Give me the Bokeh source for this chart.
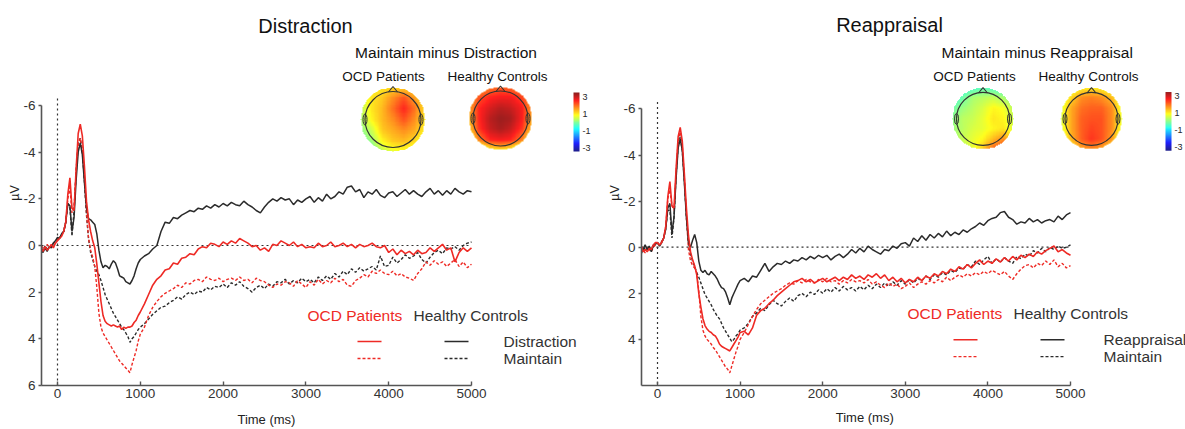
import numpy as np
from bokeh.plotting import figure
from bokeh.models import Range1d, FixedTicker, LinearColorMapper
from bokeh.layouts import row
from bokeh.embed import file_html
from bokeh.resources import INLINE
from bokeh.core.properties import value

# ---------------- DATA ----------------
time_ms = list(range(-200, 1001, 25)) + list(range(1050, 5001, 50))

# Distraction panel (µV, negative up)
dist_ocd_distraction = [
    0.1, 0.25, 0.05, 0.2, 0.1, -0.05, 0.1, -0.1, -0.2, -0.3,
    -0.4, -0.6, -1.0, -2.2, -2.9, -1.6, -1.5, -3.3, -4.8, -5.2,
    -4.7, -3.4, -1.9, -1.1, -0.6, -0.2, 0.1, 0.8, 1.6, 2.4,
    3.0, 3.25, 3.35, 3.4, 3.45, 3.4, 3.45, 3.5, 3.45, 3.6,
    3.5, 3.55, 3.5, 3.5, 3.45, 3.3, 3.2, 3.0, 2.85,
    2.5, 2.1, 1.7, 1.45, 1.3, 1.05, 1.0, 0.75, 0.8, 0.55,
    0.5, 0.35, 0.4, 0.15, 0.05, 0.1, -0.1, -0.05, 0.05, -0.15,
    -0.05, -0.2, -0.1, -0.3, -0.2, -0.1, 0.05, 0.0, 0.2, 0.1,
    0.25, -0.05, 0.0, -0.2, -0.1, 0.0, -0.15, 0.05, -0.05, 0.1,
    0.05, 0.1, -0.1, 0.05, 0.0, -0.15, 0.05, 0.0, -0.1, 0.05,
    -0.05, 0.1, -0.05, 0.05, 0.0, -0.1, 0.05, 0.1, 0.0, 0.3,
    0.15, 0.4, 0.2, 0.35, 0.25, 0.4, 0.2, 0.35, 0.3, 0.1,
    0.25, 0.1, -0.05, 0.2, 0.1, 0.7, 0.3, 0.1, 0.25, 0.1]
dist_hc_distraction = [
    0.2, 0.3, 0.1, 0.25, 0.05, 0.1, -0.1, -0.2, -0.35, -0.3,
    -0.5, -0.6, -1.0, -1.8, -1.7, -0.6, -1.2, -2.8, -4.0, -4.4,
    -3.9, -2.7, -1.6, -1.15, -1.1, -1.0, -0.9, -0.5, 0.2, 0.7,
    0.95, 0.85, 0.9, 1.0, 0.8, 0.65, 0.75, 1.0, 1.3, 1.35,
    1.4, 1.55, 1.6, 1.65, 1.5, 1.3, 1.0, 0.75, 0.6,
    0.45, 0.35, 0.15, 0.0, -0.6, -1.0, -0.95, -1.2, -1.15, -1.3,
    -1.4, -1.5, -1.45, -1.6, -1.55, -1.7, -1.6, -1.75, -1.65, -1.8,
    -1.7, -1.85, -1.75, -1.7, -1.9, -1.75, -1.65, -1.5, -1.4, -1.65,
    -1.85, -2.0, -1.9, -2.05, -1.95, -2.0, -1.75, -1.95, -1.85, -2.0,
    -2.1, -1.85, -2.05, -1.9, -2.2, -2.0, -2.1, -2.3, -2.2, -2.5,
    -2.55, -2.3, -2.4, -2.05, -2.3, -2.2, -2.4, -2.15, -2.05, -2.25,
    -2.3, -2.1, -2.25, -2.4, -2.2, -2.35, -2.2, -2.1, -2.3, -2.45,
    -2.2, -2.35, -2.15, -2.35, -2.2, -2.45, -2.3, -2.2, -2.35, -2.3]
dist_hc_maintain = [
    0.1, 0.2, 0.0, 0.15, 0.1, 0.0, -0.1, -0.2, -0.3, -0.3,
    -0.5, -0.6, -1.0, -1.8, -1.6, -0.4, -1.5, -3.2, -4.4, -4.6,
    -4.0, -2.8, -1.3, -0.3, 0.3, 0.6, 0.9, 1.1, 1.25, 1.5,
    1.8, 2.1, 2.3, 2.5, 2.7, 2.9, 3.05, 3.2, 3.35, 3.5,
    3.6, 3.75, 3.9, 4.15, 4.0, 3.9, 3.75, 3.6, 3.5,
    3.35, 3.15, 2.95, 2.8, 2.65, 2.6, 2.45, 2.35, 2.2, 2.3,
    2.1, 2.0, 2.1, 1.95, 2.0, 1.8, 1.9, 1.75, 1.8, 1.65,
    1.8, 1.6, 1.7, 1.55, 1.75, 1.85, 2.0, 1.8, 1.7, 1.85,
    1.65, 1.75, 1.55, 1.6, 1.45, 1.65, 1.5, 1.6, 1.4, 1.55,
    1.45, 1.6, 1.35, 1.5, 1.3, 1.45, 1.2, 1.35, 1.1, 1.25,
    1.0, 1.15, 0.95, 1.1, 1.0, 0.9, 1.05, 0.45, 0.9, 0.85,
    0.5, 0.75, 0.6, 0.4, 0.55, 0.45, 0.3, 0.6, 0.75, 0.5,
    0.3, 0.2, 0.35, 0.1, 0.15, 0.05, 0.2, 0.0, -0.1, -0.15]
dist_ocd_maintain = [
    0.0, 0.1, 0.15, -0.05, 0.1, 0.0, -0.1, -0.15, -0.3, -0.35,
    -0.45, -0.6, -1.0, -2.0, -2.5, -1.4, -1.6, -3.1, -4.3, -4.6,
    -4.1, -2.9, -1.4, -0.3, 0.2, 0.5, 0.9, 1.8, 2.9, 3.5,
    3.75, 3.9, 4.05, 4.2, 4.35, 4.5, 4.65, 4.8, 4.95, 5.05,
    5.15, 5.25, 5.35, 5.45, 5.1, 4.8, 4.5, 4.1, 3.8,
    3.5, 3.0, 2.65, 2.4, 2.2, 2.05, 1.95, 1.85, 1.7, 1.8,
    1.6, 1.65, 1.5, 1.45, 1.55, 1.35, 1.45, 1.5, 1.4, 1.55,
    1.45, 1.4, 1.5, 1.35, 1.5, 1.45, 1.6, 1.4, 1.5, 1.55,
    1.7, 1.8, 1.65, 1.7, 1.55, 1.6, 1.75, 1.5, 1.65, 1.8,
    1.55, 1.7, 1.45, 1.65, 1.5, 1.6, 1.4, 1.55, 1.45, 1.7,
    1.75, 1.5, 1.4, 1.25, 1.35, 1.1, 1.2, 1.05, 1.2, 1.25,
    1.1, 1.3, 1.2, 1.35, 1.4, 1.5, 1.2, 1.0, 0.7, 0.85,
    0.65, 0.8, 0.7, 0.9, 0.75, 0.6, 0.9, 0.7, 0.95, 0.8]

# Reappraisal panel
reap_ocd_reappraisal = [
    -0.1, 0.2, 0.1, 0.2, 0.05, 0.1, -0.1, -0.2, -0.2, -0.1,
    -0.2, -0.4, -0.9, -2.2, -2.85, -1.8, -1.7, -3.4, -4.8, -5.2,
    -4.6, -3.2, -1.7, -0.5, 0.2, 0.55, 0.8, 1.2, 2.0, 2.6,
    3.1, 3.4, 3.55, 3.65, 3.7, 3.8, 3.85, 4.0, 4.2, 4.3,
    4.35, 4.4, 4.45, 4.5, 4.35, 4.2, 4.05, 3.9, 3.7,
    3.65, 3.8, 3.5, 2.95, 2.75, 2.65, 2.45, 2.3, 2.1, 1.95,
    1.8, 1.65, 1.5, 1.45, 1.35, 1.5, 1.4, 1.55, 1.45, 1.35,
    1.5, 1.4, 1.3, 1.45, 1.3, 1.4, 1.2, 1.35, 1.25, 1.4,
    1.2, 1.3, 1.15, 1.35, 1.2, 1.45, 1.3, 1.5, 1.35, 1.55,
    1.4, 1.5, 1.3, 1.45, 1.25, 1.35, 1.15, 1.25, 1.05, 1.15,
    0.95, 1.05, 0.85, 0.95, 0.75, 0.9, 0.7, 0.55, 0.75, 0.6,
    0.7, 0.5, 0.65, 0.45, 0.6, 0.4, 0.55, 0.35, 0.45, 0.3,
    0.4, 0.2, 0.3, 0.15, 0.05, -0.05, 0.2, 0.1, 0.25, 0.35]
reap_hc_reappraisal = [
    0.3, 0.1, -0.1, 0.1, -0.05, 0.2, -0.1, -0.15, -0.2, -0.05,
    -0.2, -0.4, -0.8, -1.7, -1.9, -0.6, -1.3, -3.0, -4.3, -4.7,
    -4.2, -2.8, -1.3, -0.2, 0.0, -0.3, -0.55, -0.2, 0.6, 1.0,
    1.1, 1.0, 1.15, 1.2, 1.05, 1.15, 1.25, 1.4, 1.6, 1.75,
    1.8, 1.95, 2.2, 2.5, 2.2, 2.0, 1.8, 1.6, 1.45,
    1.35, 1.5, 1.25, 1.3, 1.0, 0.7, 1.05, 0.85, 0.7, 0.75,
    0.6, 0.7, 0.55, 0.6, 0.45, 0.55, 0.4, 0.5, 0.35, 0.45,
    0.35, 0.55, 0.4, 0.3, 0.45, 0.3, 0.1, 0.25, 0.05, 0.2,
    -0.05, 0.1, 0.2, 0.3, 0.1, 0.15, -0.05, 0.05, -0.15, -0.2,
    -0.05, -0.4, -0.25, -0.5, -0.3, -0.55, -0.4, -0.6, -0.45, -0.7,
    -0.5, -0.65, -0.55, -0.75, -0.65, -0.8, -0.9, -1.05, -0.95, -1.15,
    -1.25, -1.3, -1.5, -1.55, -1.3, -1.2, -1.0, -1.1, -1.05, -1.25,
    -1.1, -1.2, -1.05, -1.15, -1.2, -1.1, -1.35, -1.2, -1.4, -1.5]
reap_hc_maintain = [
    0.1, 0.2, 0.0, 0.1, 0.0, 0.1, -0.05, -0.1, -0.2, -0.1,
    -0.2, -0.4, -0.8, -1.6, -1.6, -0.4, -1.3, -3.1, -4.4, -4.8,
    -4.2, -2.9, -1.3, -0.2, 0.3, 0.6, 0.85, 1.1, 1.3, 1.55,
    1.8, 2.05, 2.2, 2.35, 2.5, 2.7, 2.85, 3.0, 3.1, 3.3,
    3.5, 3.65, 3.8, 3.95, 4.1, 4.0, 3.85, 3.75, 3.6,
    3.5, 3.3, 3.0, 2.85, 2.65, 2.75, 2.5, 2.3, 2.45, 2.55,
    2.35, 2.2, 2.35, 2.1, 2.0, 2.15, 1.95, 2.05, 1.85, 2.0,
    1.8, 1.95, 1.75, 1.9, 1.7, 1.85, 1.75, 1.9, 1.7, 1.85,
    1.65, 1.8, 1.6, 1.75, 1.55, 1.7, 1.5, 1.65, 1.45, 1.6,
    1.4, 1.55, 1.35, 1.45, 1.25, 1.4, 1.2, 1.3, 1.1, 1.2,
    1.0, 1.1, 0.9, 0.95, 0.75, 0.85, 0.6, 0.75, 0.55, 0.4,
    0.7, 0.5, 0.65, 0.45, 0.6, 0.7, 0.4, 0.5, 0.3, 0.4,
    0.15, 0.25, 0.05, 0.2, 0.0, 0.1, -0.05, 0.05, 0.0, -0.1]
reap_ocd_maintain = [
    0.0, 0.1, 0.25, 0.0, 0.1, 0.2, 0.0, -0.1, -0.15, -0.1,
    -0.25, -0.4, -0.9, -2.1, -2.5, -1.8, -1.6, -3.2, -4.6, -5.0,
    -4.4, -3.0, -1.3, 0.1, 0.6, 0.8, 0.9, 1.1, 1.9, 3.0,
    3.6, 3.85, 4.0, 4.1, 4.2, 4.35, 4.45, 4.6, 4.75, 4.9,
    5.05, 5.2, 5.3, 5.45, 5.15, 4.85, 4.55, 4.3, 4.0,
    3.7, 3.35, 3.0, 2.7, 2.45, 2.3, 2.15, 2.0, 1.9, 1.8,
    1.65, 1.55, 1.6, 1.45, 1.55, 1.4, 1.5, 1.55, 1.4, 1.5,
    1.35, 1.5, 1.45, 1.6, 1.45, 1.55, 1.4, 1.5, 1.45, 1.55,
    1.4, 1.6, 1.5, 1.65, 1.75, 1.55, 1.7, 1.6, 1.8, 1.7,
    1.55, 1.75, 1.6, 1.5, 1.6, 1.45, 1.55, 1.4, 1.5, 1.3,
    1.45, 1.3, 1.2, 1.3, 1.15, 1.25, 1.1, 1.2, 1.05, 1.15,
    1.0, 1.1, 1.2, 1.05, 1.25, 1.4, 1.15, 0.95, 0.8, 0.75,
    0.9, 0.7, 0.8, 0.6, 0.75, 0.55, 0.85, 0.7, 0.9, 0.8]

# Topographic maps (Maintain minus regulation, µV), rows front->back, cols left->right
topo_dist_ocd = [
    [0.4, 0.8, 0.9, 1.0, 1.0, 0.9, 0.6],
    [0.4, 0.9, 1.1, 1.5, 1.9, 1.4, 0.8],
    [0.3, 0.9, 1.2, 1.7, 2.2, 1.7, 0.9],
    [0.2, 0.8, 1.2, 1.5, 1.9, 1.5, 0.9],
    [0.0, 0.4, 1.1, 1.3, 1.5, 1.3, 0.8],
    [-0.2, 0.1, 0.8, 1.1, 1.2, 1.0, 0.5],
    [-0.4, -0.2, 0.3, 0.6, 0.7, 0.5, 0.2]]
topo_dist_hc = [
    [0.9, 1.2, 1.6, 1.8, 1.7, 1.4, 1.0],
    [1.1, 1.9, 2.2, 2.3, 2.3, 2.0, 1.3],
    [1.3, 2.2, 2.5, 2.7, 2.6, 2.3, 1.4],
    [1.2, 2.2, 2.7, 2.9, 2.8, 2.3, 1.3],
    [1.0, 2.1, 2.6, 2.8, 2.6, 2.1, 1.1],
    [0.5, 1.6, 2.2, 2.3, 2.2, 1.6, 0.5],
    [-0.6, 0.2, 0.7, 0.9, 0.7, 0.1, -0.7]]
topo_reap_ocd = [
    [-0.8, -0.6, -0.4, -0.3, -0.4, -0.6, -0.3],
    [-0.5, -0.2, 0.2, 0.3, 0.4, 0.2, 0.0],
    [-0.2, 0.1, 0.3, 0.5, 0.8, 0.7, 0.3],
    [0.0, 0.3, 0.4, 0.6, 0.9, 0.8, 0.4],
    [0.1, 0.3, 0.5, 0.6, 0.8, 0.9, 0.5],
    [0.1, 0.4, 0.6, 0.8, 1.2, 1.5, 0.9],
    [0.0, 0.3, 0.6, 1.1, 1.8, 2.0, 1.1]]
topo_reap_hc = [
    [0.2, 0.5, 0.8, 0.9, 0.8, 0.5, 0.2],
    [0.4, 1.0, 1.5, 1.6, 1.5, 1.2, 0.5],
    [0.5, 1.3, 1.7, 1.8, 1.8, 1.5, 0.6],
    [0.5, 1.3, 1.8, 1.9, 1.9, 1.5, 0.6],
    [0.5, 1.3, 1.8, 2.0, 1.9, 1.5, 0.6],
    [0.4, 1.2, 1.8, 2.1, 1.9, 1.4, 0.5],
    [0.1, 0.7, 1.3, 1.5, 1.3, 0.8, 0.3]]

x_ticks = [0, 1000, 2000, 3000, 4000, 5000]
y_ticks = [-6, -4, -2, 0, 2, 4, 6]
cbar_values = [3, 1, -1, -3]
cbar_labels = ["3", "1", "-1", "-3"]

for s in (dist_ocd_distraction, dist_hc_distraction, dist_hc_maintain, dist_ocd_maintain,
          reap_ocd_reappraisal, reap_hc_reappraisal, reap_hc_maintain, reap_ocd_maintain):
    assert len(s) == len(time_ms), len(s)

# ---------------- STYLE ----------------
RED = "#ee2a25"
BLK = "#2b2b2b"
TXT = "#262626"
FONT = "Liberation Sans"
PAGE_H = 429
NBSP = "\u00a0"


def jet_palette(n=256, wash=0.12):
    out = []
    for i in range(n):
        x = i / (n - 1)
        r = min(max(1.5 - abs(4 * x - 3), 0), 1)
        g = min(max(1.5 - abs(4 * x - 2), 0), 1)
        b = min(max(1.5 - abs(4 * x - 1), 0), 1)
        r, g, b = (c * (1 - wash) + wash for c in (r, g, b))
        out.append("#%02x%02x%02x" % (int(r * 255), int(g * 255), int(b * 255)))
    return out


mapper = LinearColorMapper(palette=jet_palette(), low=-3, high=3, nan_color=(0, 0, 0, 0))


def topo_image(grid, n=81):
    g = np.array(grid, dtype=float)
    m = g.shape[0]
    src = np.arange(m)
    dst = np.linspace(0, m - 1, n)
    tmp = np.array([np.interp(dst, src, r) for r in g])
    out = np.array([np.interp(dst, src, c) for c in tmp.T]).T
    yy, xx = np.mgrid[0:n, 0:n]
    c = (n - 1) / 2
    out[(xx - c) ** 2 + (yy - c) ** 2 > c ** 2] = np.nan
    return np.flipud(out)


def U(py):
    return PAGE_H - py


def txt(p, x, y, s, size, color=TXT, align="left"):
    p.text(x=[x], y=[U(y)], text=[s], text_font=value(FONT), text_font_size=size,
           text_color=color, text_align=align, text_baseline="middle",
           x_range_name="px", y_range_name="py")


def seg(p, x0, x1, y, color, dash="solid"):
    p.line(x=[x0, x1], y=[U(y), U(y)], line_color=color, line_width=1.4, line_dash=dash,
           x_range_name="px", y_range_name="py")


def head(p, cx, cy, r, grid):
    p.image(image=[topo_image(grid)], x=cx - r, y=U(cy) - r, dw=2 * r, dh=2 * r,
            color_mapper=mapper, x_range_name="px", y_range_name="py")
    ro = r - 4.5
    p.circle(x=[cx], y=[U(cy)], radius=ro, fill_color=None, line_color="#333333",
             line_width=1.2, x_range_name="px", y_range_name="py")
    p.line(x=[cx - 4.5, cx, cx + 4.5], y=[U(cy - ro + 0.5), U(cy - ro - 5), U(cy - ro + 0.5)],
           line_color="#333333", line_width=1.1, x_range_name="px", y_range_name="py")
    p.ellipse(x=[cx - ro, cx + ro], y=[U(cy), U(cy)], width=4, height=11, fill_color=None,
              line_color="#333333", line_width=1.0, x_range_name="px", y_range_name="py")


def colorbar(p, x0, top, bottom, label_x):
    vals = np.linspace(-3, 3, 60).reshape(60, 1)
    p.image(image=[vals], x=x0, y=U(bottom), dw=6, dh=bottom - top, color_mapper=mapper,
            x_range_name="px", y_range_name="py")
    for v, lab in zip(cbar_values, cbar_labels):
        py = top + 4 + (3 - v) / 6 * (bottom - top - 8)
        txt(p, label_x, py, lab, "9px", TXT, "left")


def make_panel(spec, series, texts):
    fig_left, width, frame_left, x0, sx, y0, sy, frame_bottom = spec
    frame_right = fig_left + width
    frame_top = 0
    xr = Range1d((frame_left - x0) / sx, (frame_right - x0) / sx)
    yr = Range1d((frame_bottom - y0) / sy, (frame_top - y0) / sy)
    p = figure(width=width, height=PAGE_H, output_backend="svg", toolbar_location=None,
               x_range=xr, y_range=yr,
               min_border_left=frame_left - fig_left, min_border_right=0,
               min_border_top=0, min_border_bottom=PAGE_H - frame_bottom)
    p.extra_x_ranges = {"px": Range1d(frame_left, frame_right)}
    p.extra_y_ranges = {"py": Range1d(U(frame_bottom), U(frame_top))}
    p.outline_line_color = None
    p.xgrid.visible = False
    p.ygrid.visible = False
    p.background_fill_color = "white"
    p.border_fill_color = "white"

    # axes
    p.xaxis.ticker = FixedTicker(ticks=x_ticks)
    p.xaxis.bounds = (xr.start, 5000)
    p.yaxis.ticker = FixedTicker(ticks=y_ticks)
    p.yaxis.bounds = (-6, 6)
    p.yaxis.major_label_overrides = {t: str(t) for t in y_ticks}
    for ax in (p.xaxis[0], p.yaxis[0]):
        ax.axis_line_color = "#555555"
        ax.axis_line_width = 1.6
        ax.major_tick_line_color = "#555555"
        ax.major_tick_line_width = 1.4
        ax.minor_tick_line_color = None
        ax.major_label_text_font = FONT
        ax.major_label_text_font_size = "13.5px"
        ax.major_label_text_color = "#333333"
        ax.axis_label_text_font = FONT
        ax.axis_label_text_font_style = "normal"
        ax.axis_label_text_color = "#222222"
    p.xaxis.major_tick_in = 4
    p.xaxis.major_tick_out = 0
    p.xaxis.major_label_standoff = 3
    # the label is centred on the frame; trailing no-break spaces move it left
    p.xaxis.axis_label = "Time (ms)" + NBSP * texts["time_pad"]
    p.xaxis.axis_label_standoff = texts["time_standoff"]
    p.xaxis.axis_label_text_font_size = "13px"
    p.yaxis.major_tick_in = 0
    p.yaxis.major_tick_out = 3
    p.yaxis.major_label_standoff = 3
    p.yaxis.axis_label = "µV"
    p.yaxis.axis_label_standoff = -2
    p.yaxis.axis_label_text_font_size = "12.5px"

    # reference lines
    p.line(x=[xr.start, 5000], y=[0, 0], line_color="#333333", line_width=1.2, line_dash="2 3")
    p.line(x=[0, 0], y=[-6.3, 6], line_color="#333333", line_width=1.2, line_dash="2 3")

    # waveforms
    ocd_reg, hc_reg, hc_main, ocd_main = series
    p.line(time_ms, hc_main, line_color=BLK, line_width=1.4, line_dash="3 2")
    p.line(time_ms, ocd_main, line_color=RED, line_width=1.4, line_dash="3 2")
    p.line(time_ms, hc_reg, line_color=BLK, line_width=1.5)
    p.line(time_ms, ocd_reg, line_color=RED, line_width=1.6)

    t = texts
    txt(p, t["title"][0], 25, t["title"][1], "20px", "#111111", "center")
    txt(p, t["sub"][0], 52, t["sub"][1], "15.5px", "#111111", "center")
    txt(p, t["ocd_c"], 76, "OCD Patients", "13.5px", "#111111", "center")
    txt(p, t["hc_c"], 76, "Healthy Controls", "13.5px", "#111111", "center")
    head(p, t["heads"][0][0], t["heads"][0][1], t["heads"][0][2], t["grids"][0])
    head(p, t["heads"][1][0], t["heads"][1][1], t["heads"][1][2], t["grids"][1])
    colorbar(p, t["cbar_x"], 92, 151, t["cbar_x"] + 9)

    # legend
    lx = t["leg"]
    txt(p, lx[0], 315, "OCD Patients", "15.5px", RED, "left")
    txt(p, lx[1], 315, "Healthy Controls", "15.5px", "#333333", "left")
    seg(p, lx[2], lx[2] + 24, 341, RED)
    seg(p, lx[2], lx[2] + 24, 358, RED, "3 2")
    seg(p, lx[3], lx[3] + 24, 341, BLK)
    seg(p, lx[3], lx[3] + 24, 358, BLK, "3 2")
    txt(p, lx[4], 341, t["reg"], "15.5px", "#333333", "left")
    txt(p, lx[4], 358, "Maintain", "15.5px", "#333333", "left")
    return p


left = make_panel(
    (0, 592, 41, 57, 0.0828, 245, 23.333, 385),
    (dist_ocd_distraction, dist_hc_distraction, dist_hc_maintain, dist_ocd_maintain),
    {"title": (305, "Distraction"), "sub": (445.5, "Maintain minus Distraction"),
     "ocd_c": 383, "hc_c": 497, "heads": [(392.5, 119, 32.5), (500, 118, 32)],
     "grids": [topo_dist_ocd, topo_dist_hc], "cbar_x": 573,
     "leg": (307, 413, 357, 444, 503), "reg": "Distraction",
     "time_pad": 28, "time_standoff": 11})

right = make_panel(
    (592, 593, 641, 657, 0.0826, 248, 23.167, 387),
    (reap_ocd_reappraisal, reap_hc_reappraisal, reap_hc_maintain, reap_ocd_maintain),
    {"title": (889, "Reappraisal"), "sub": (1036.7, "Maintain minus Reappraisal"),
     "ocd_c": 974, "hc_c": 1088, "heads": [(982.5, 119, 31), (1091, 119, 31)],
     "grids": [topo_reap_ocd, topo_reap_hc], "cbar_x": 1165,
     "leg": (907, 1013, 953, 1040, 1103), "reg": "Reappraisal",
     "time_pad": 27, "time_standoff": 9})

layout = row(left, right, spacing=0)
open("out.html", "w").write(file_html(layout, INLINE))
